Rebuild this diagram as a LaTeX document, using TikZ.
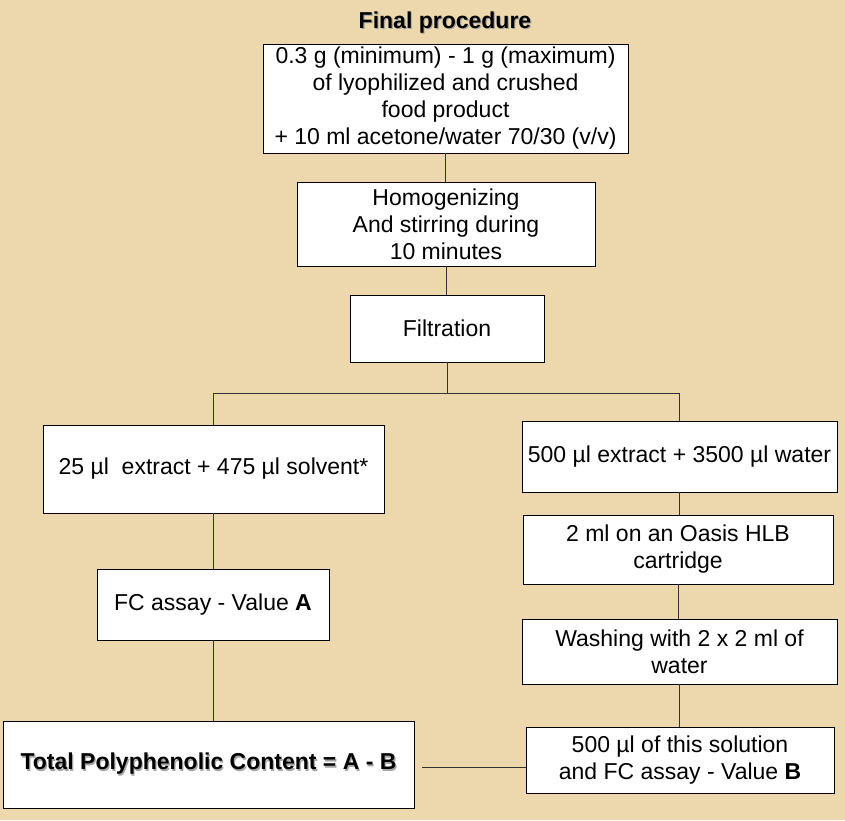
\documentclass[tikz,border=0pt]{standalone}
\usepackage{fontspec}
\setmainfont{Liberation Sans}
\usepackage{xcolor}
\definecolor{parchment}{RGB}{236,216,172}
\newcommand{\shtext}[1]{\rlap{\kern1.2pt\raisebox{-1.2pt}{\textcolor{black!35}{#1}}}#1}

\begin{document}
\begin{tikzpicture}[x=1pt, y=-1pt,
  box/.style={draw=black, line width=0.9pt, fill=white, align=center, inner sep=0pt,
    font=\fontsize{23}{27}\selectfont},
  link/.style={draw=black!80, line width=0.8pt}]
  \fill[parchment] (0,0) rectangle (845,820);
  \useasboundingbox (0,0) rectangle (845,820);
  \node[font=\fontsize{23}{27}\selectfont\bfseries] (title) at (445,23) {\shtext{Final procedure}};
  \node[box, minimum width=365pt, minimum height=109pt] (sample) at (445.5,98.5)
    {0.3 g (minimum) - 1 g (maximum)\\of lyophilized and crushed\\food product\\+ 10 ml acetone/water 70/30 (v/v)};
  \node[box, minimum width=298pt, minimum height=84pt] (homog) at (446,224)
    {Homogenizing\\And stirring during\\10 minutes};
  \node[box, minimum width=194pt, minimum height=67pt] (filt) at (447,328.5) {Filtration};
  \node[box, minimum width=341pt, minimum height=88pt] (dil) at (213.5,469)
    {25 µl\ \ extract + 475 µl solvent*};
  \node[box, minimum width=232pt, minimum height=71pt] (fca) at (213,604.5)
    {FC assay - Value \textbf{A}};
  \node[box, minimum width=411pt, minimum height=87pt, font=\fontsize{23}{27}\selectfont\bfseries] (total) at (208.5,764.5)
    {\shtext{Total Polyphenolic Content = A - B}};
  \node[box, minimum width=315pt, minimum height=71pt] (water) at (679.5,456.5)
    {500 µl extract + 3500 µl water};
  \node[box, minimum width=310pt, minimum height=69pt] (oasis) at (678,549.5)
    {2 ml on an Oasis HLB\\cartridge};
  \node[box, minimum width=315pt, minimum height=65pt] (wash) at (679.5,651.5)
    {Washing with 2 x 2 ml of\\water};
  \node[box, minimum width=308pt, minimum height=66pt] (fcb) at (680,760)
    {500 µl of this solution\\and FC assay - Value \textbf{B}};
  \coordinate (split) at (447,393);
  \draw[link] (sample.south) -- (sample.south |- homog.north);
  \draw[link] (homog.south) -- (homog.south |- filt.north);
  \draw[link] (filt.south) -- (split);
  \draw[link] (split) -| (dil.north);
  \draw[link] (split) -| (water.north);
  \draw[link] (dil.south) -- (dil.south |- fca.north);
  \draw[link] (fca.south) -- (fca.south |- total.north);
  \draw[link] (water.south) -- (water.south |- oasis.north);
  \draw[link] (oasis.south) -- (oasis.south |- wash.north);
  \draw[link] (wash.south) -- (wash.south |- fcb.north);
  \draw[link, shorten <=8pt] ([yshift=-2.5pt]total.east) -- ([yshift=-2.5pt]total.east -| fcb.west);
\end{tikzpicture}
\end{document}
